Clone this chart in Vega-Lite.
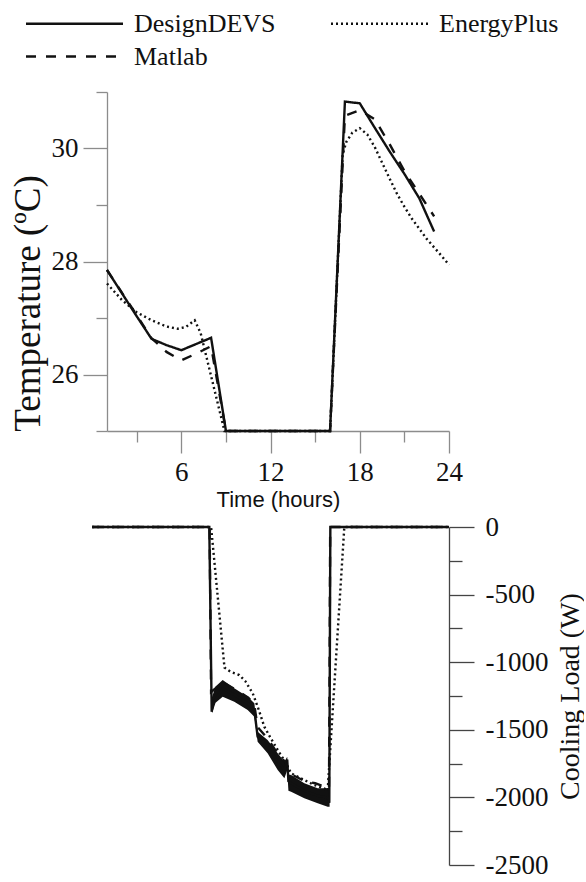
{
  "$schema": "https://vega.github.io/schema/vega-lite/v6.json",
  "padding": {"left": 9, "top": 10, "right": 0, "bottom": 0},
  "background": "white",
  "bounds": "flush",
  "spacing": 96,
  "config": {
    "view": {"stroke": null},
    "font": "Liberation Serif",
    "axis": {
      "grid": false,
      "labelFont": "Liberation Serif",
      "titleFont": "Liberation Serif",
      "titleFontWeight": "normal",
      "labelFontSize": 27,
      "labelColor": "#111",
      "titleColor": "#111",
      "domainWidth": 1.3,
      "tickWidth": 1.3,
      "labelFlush": false,
      "labelOverlap": false
    }
  },
  "datasets": {
    "temp": [
      {"series": "DesignDEVS", "h": 1, "v": 27.85},
      {"series": "DesignDEVS", "h": 2, "v": 27.44},
      {"series": "DesignDEVS", "h": 3, "v": 27.03},
      {"series": "DesignDEVS", "h": 4, "v": 26.63},
      {"series": "DesignDEVS", "h": 5, "v": 26.52},
      {"series": "DesignDEVS", "h": 6, "v": 26.43},
      {"series": "DesignDEVS", "h": 7, "v": 26.54},
      {"series": "DesignDEVS", "h": 8, "v": 26.65},
      {"series": "DesignDEVS", "h": 9, "v": 25.0},
      {"series": "DesignDEVS", "h": 10, "v": 25.0},
      {"series": "DesignDEVS", "h": 11, "v": 25.0},
      {"series": "DesignDEVS", "h": 12, "v": 25.0},
      {"series": "DesignDEVS", "h": 13, "v": 25.0},
      {"series": "DesignDEVS", "h": 14, "v": 25.0},
      {"series": "DesignDEVS", "h": 15, "v": 25.0},
      {"series": "DesignDEVS", "h": 16, "v": 25.0},
      {"series": "DesignDEVS", "h": 17, "v": 30.83},
      {"series": "DesignDEVS", "h": 18, "v": 30.8},
      {"series": "DesignDEVS", "h": 19, "v": 30.37},
      {"series": "DesignDEVS", "h": 20, "v": 29.95},
      {"series": "DesignDEVS", "h": 21, "v": 29.55},
      {"series": "DesignDEVS", "h": 22, "v": 29.12},
      {"series": "DesignDEVS", "h": 23, "v": 28.53},
      {"series": "EnergyPlus", "h": 1, "v": 27.61},
      {"series": "EnergyPlus", "h": 2, "v": 27.32},
      {"series": "EnergyPlus", "h": 3, "v": 27.1},
      {"series": "EnergyPlus", "h": 4, "v": 26.96},
      {"series": "EnergyPlus", "h": 5, "v": 26.85},
      {"series": "EnergyPlus", "h": 5.75, "v": 26.81},
      {"series": "EnergyPlus", "h": 6.3, "v": 26.84},
      {"series": "EnergyPlus", "h": 6.9, "v": 26.96},
      {"series": "EnergyPlus", "h": 7.3, "v": 26.73},
      {"series": "EnergyPlus", "h": 8.9, "v": 25.0},
      {"series": "EnergyPlus", "h": 10, "v": 25.0},
      {"series": "EnergyPlus", "h": 12, "v": 25.0},
      {"series": "EnergyPlus", "h": 14, "v": 25.0},
      {"series": "EnergyPlus", "h": 16, "v": 25.0},
      {"series": "EnergyPlus", "h": 16.85, "v": 29.9},
      {"series": "EnergyPlus", "h": 17.1, "v": 30.12},
      {"series": "EnergyPlus", "h": 17.5, "v": 30.28},
      {"series": "EnergyPlus", "h": 18, "v": 30.36},
      {"series": "EnergyPlus", "h": 18.5, "v": 30.25},
      {"series": "EnergyPlus", "h": 19, "v": 30.03},
      {"series": "EnergyPlus", "h": 19.5, "v": 29.75},
      {"series": "EnergyPlus", "h": 20, "v": 29.47},
      {"series": "EnergyPlus", "h": 20.5, "v": 29.2},
      {"series": "EnergyPlus", "h": 21, "v": 28.97},
      {"series": "EnergyPlus", "h": 21.5, "v": 28.76},
      {"series": "EnergyPlus", "h": 22, "v": 28.58},
      {"series": "EnergyPlus", "h": 22.5, "v": 28.4},
      {"series": "EnergyPlus", "h": 23, "v": 28.25},
      {"series": "EnergyPlus", "h": 23.5, "v": 28.1},
      {"series": "EnergyPlus", "h": 24, "v": 27.94},
      {"series": "Matlab", "h": 1, "v": 27.85},
      {"series": "Matlab", "h": 2, "v": 27.45},
      {"series": "Matlab", "h": 3, "v": 27.05},
      {"series": "Matlab", "h": 4, "v": 26.64},
      {"series": "Matlab", "h": 5, "v": 26.4},
      {"series": "Matlab", "h": 6, "v": 26.25},
      {"series": "Matlab", "h": 7, "v": 26.37},
      {"series": "Matlab", "h": 8, "v": 26.5},
      {"series": "Matlab", "h": 9, "v": 25.0},
      {"series": "Matlab", "h": 12, "v": 25.0},
      {"series": "Matlab", "h": 16, "v": 25.0},
      {"series": "Matlab", "h": 17, "v": 30.58},
      {"series": "Matlab", "h": 18, "v": 30.68},
      {"series": "Matlab", "h": 19, "v": 30.52},
      {"series": "Matlab", "h": 20, "v": 30.08},
      {"series": "Matlab", "h": 21, "v": 29.6},
      {"series": "Matlab", "h": 22, "v": 29.2},
      {"series": "Matlab", "h": 23, "v": 28.8}
    ],
    "load": [
      {"series": "DesignDEVS", "h": 0, "v": 0},
      {"series": "DesignDEVS", "h": 7.88, "v": 0},
      {"series": "DesignDEVS", "h": 8.04, "v": -1366},
      {"series": "DesignDEVS", "h": 8.15, "v": -1300},
      {"series": "DesignDEVS", "h": 8.78, "v": -1195},
      {"series": "DesignDEVS", "h": 9.56, "v": -1242},
      {"series": "DesignDEVS", "h": 10.46, "v": -1304},
      {"series": "DesignDEVS", "h": 10.91, "v": -1354},
      {"series": "DesignDEVS", "h": 11.13, "v": -1551},
      {"series": "DesignDEVS", "h": 11.8, "v": -1625},
      {"series": "DesignDEVS", "h": 12.48, "v": -1735},
      {"series": "DesignDEVS", "h": 12.93, "v": -1797},
      {"series": "DesignDEVS", "h": 13.12, "v": -1720},
      {"series": "DesignDEVS", "h": 13.2, "v": -1880},
      {"series": "DesignDEVS", "h": 13.38, "v": -1896},
      {"series": "DesignDEVS", "h": 14.27, "v": -1951},
      {"series": "DesignDEVS", "h": 15.17, "v": -1988},
      {"series": "DesignDEVS", "h": 15.84, "v": -2001},
      {"series": "DesignDEVS", "h": 15.95, "v": -2040},
      {"series": "DesignDEVS", "h": 16.02, "v": 0},
      {"series": "DesignDEVS", "h": 24, "v": 0},
      {"series": "EnergyPlus", "h": 0, "v": 0},
      {"series": "EnergyPlus", "h": 8.0, "v": 0},
      {"series": "EnergyPlus", "h": 8.9, "v": -1040},
      {"series": "EnergyPlus", "h": 9.3, "v": -1070},
      {"series": "EnergyPlus", "h": 9.9, "v": -1095},
      {"series": "EnergyPlus", "h": 10.3, "v": -1140},
      {"series": "EnergyPlus", "h": 10.8, "v": -1230},
      {"series": "EnergyPlus", "h": 11.2, "v": -1350},
      {"series": "EnergyPlus", "h": 11.58, "v": -1477},
      {"series": "EnergyPlus", "h": 12.0, "v": -1560},
      {"series": "EnergyPlus", "h": 12.48, "v": -1649},
      {"series": "EnergyPlus", "h": 13.0, "v": -1740},
      {"series": "EnergyPlus", "h": 13.38, "v": -1822},
      {"series": "EnergyPlus", "h": 14.05, "v": -1859},
      {"series": "EnergyPlus", "h": 14.94, "v": -1908},
      {"series": "EnergyPlus", "h": 15.6, "v": -1933},
      {"series": "EnergyPlus", "h": 15.84, "v": -1950},
      {"series": "EnergyPlus", "h": 16.96, "v": 0},
      {"series": "EnergyPlus", "h": 24, "v": 0},
      {"series": "Matlab", "h": 0, "v": 0},
      {"series": "Matlab", "h": 7.9, "v": 0},
      {"series": "Matlab", "h": 8.0, "v": -1220},
      {"series": "Matlab", "h": 8.8, "v": -1150},
      {"series": "Matlab", "h": 9.6, "v": -1200},
      {"series": "Matlab", "h": 10.5, "v": -1262},
      {"series": "Matlab", "h": 10.9, "v": -1310},
      {"series": "Matlab", "h": 11.13, "v": -1480},
      {"series": "Matlab", "h": 11.8, "v": -1565},
      {"series": "Matlab", "h": 12.5, "v": -1680},
      {"series": "Matlab", "h": 13.0, "v": -1740},
      {"series": "Matlab", "h": 13.4, "v": -1830},
      {"series": "Matlab", "h": 14.3, "v": -1880},
      {"series": "Matlab", "h": 15.0, "v": -1895},
      {"series": "Matlab", "h": 15.5, "v": -1915},
      {"series": "Matlab", "h": 15.93, "v": -1935},
      {"series": "Matlab", "h": 16.01, "v": 0},
      {"series": "Matlab", "h": 24, "v": 0}
    ],
    "band": [
      {"h": 8.06, "lo": -1380, "hi": -1260},
      {"h": 8.3, "lo": -1300, "hi": -1180},
      {"h": 8.78, "lo": -1255, "hi": -1132},
      {"h": 9.56, "lo": -1292, "hi": -1193},
      {"h": 10.46, "lo": -1353, "hi": -1255},
      {"h": 10.91, "lo": -1403, "hi": -1304},
      {"h": 11.13, "lo": -1588, "hi": -1514},
      {"h": 11.8, "lo": -1674, "hi": -1575},
      {"h": 12.48, "lo": -1797, "hi": -1674},
      {"h": 12.93, "lo": -1859, "hi": -1736},
      {"h": 13.12, "lo": -1800, "hi": -1700},
      {"h": 13.2, "lo": -1950, "hi": -1830},
      {"h": 13.38, "lo": -1958, "hi": -1834},
      {"h": 14.27, "lo": -2007, "hi": -1896},
      {"h": 15.17, "lo": -2044, "hi": -1933},
      {"h": 15.84, "lo": -2069, "hi": -1933},
      {"h": 15.97, "lo": -2069, "hi": -1940}
    ]
  },
  "vconcat": [
    {
      "width": 342,
      "height": 339,
      "layer": [
        {
          "data": {"name": "temp"},
          "mark": {"type": "line", "color": "#111", "strokeWidth": 2.4},
          "encoding": {
            "x": {"field": "h", "type": "quantitative", "scale": {"domain": [1, 24], "nice": false, "zero": false},
              "axis": {"orient": "bottom", "values": [6, 12, 18, 24], "tickSize": 22, "labelPadding": 6, "domainColor": "#8c8c8c", "tickColor": "#8c8c8c", "title": "Time (hours)", "titleFont": "Liberation Sans", "titleFontSize": 22, "titlePadding": 4}},
            "y": {"field": "v", "type": "quantitative", "scale": {"domain": [25, 31], "nice": false, "zero": false},
              "axis": {"orient": "left", "values": [26, 28, 30], "tickSize": 24, "labelPadding": 5, "domainColor": "#8c8c8c", "tickColor": "#8c8c8c", "title": "Temperature (ºC)", "titleFontSize": 37, "titleAngle": 270, "titleBaseline": "alphabetic", "titleAlign": "center", "titleX": -68, "titleY": 211}},
            "strokeDash": {"field": "series", "type": "nominal",
              "scale": {"domain": ["DesignDEVS", "EnergyPlus", "Matlab"], "range": [[1, 0], [2, 3], [10, 10]]},
              "legend": {"orient": "none", "legendX": -46, "legendY": -82, "columns": 2, "direction": "horizontal", "title": null, "symbolType": "M-4,0H4", "symbolSize": 588, "symbolStrokeWidth": 2.5, "symbolStrokeColor": "#111", "symbolFillColor": "transparent", "labelFont": "Liberation Serif", "labelFontSize": 26, "labelColor": "#111", "labelOffset": 46, "columnPadding": 50, "rowPadding": 6, "padding": 0, "labelLimit": 400}}
          }
        },
        {
          "data": {"name": "temp"},
          "mark": {"type": "point", "opacity": 0},
          "encoding": {
            "x": {"field": "h", "type": "quantitative", "scale": {"domain": [1, 24], "nice": false, "zero": false},
              "axis": {"orient": "bottom", "values": [3, 9, 15, 21], "tickSize": 11, "labels": false, "domain": false, "title": null, "tickColor": "#8c8c8c"}},
            "y": {"field": "v", "type": "quantitative", "scale": {"domain": [25, 31], "nice": false, "zero": false},
              "axis": {"orient": "left", "values": [25, 27, 29, 31], "tickSize": 11, "labels": false, "domain": false, "title": null, "tickColor": "#8c8c8c"}}
          }
        }
      ],
      "resolve": {"axis": {"x": "independent", "y": "independent"}}
    },
    {
      "width": 342,
      "height": 338,
      "layer": [
        {
          "data": {"name": "band"},
          "mark": {"type": "area", "color": "#111", "opacity": 1},
          "encoding": {
            "x": {"field": "h", "type": "quantitative", "scale": {"domain": [1, 24], "nice": false, "zero": false}, "axis": null},
            "y": {"field": "lo", "type": "quantitative", "scale": {"domain": [-2500, 0], "nice": false, "zero": false},
              "axis": {"orient": "right", "values": [0, -500, -1000, -1500, -2000, -2500], "labelExpr": "'' + datum.value", "tickSize": 25, "labelPadding": 11, "domainColor": "#444", "tickColor": "#444", "title": "Cooling Load (W)", "titleFontSize": 28, "titleAngle": 270, "titleBaseline": "alphabetic", "titleAlign": "center", "titleX": 129, "titleY": 169}},
            "y2": {"field": "hi"}
          }
        },
        {
          "data": {"name": "load"},
          "mark": {"type": "line", "color": "#111", "strokeWidth": 2.4},
          "encoding": {
            "x": {"field": "h", "type": "quantitative", "scale": {"domain": [1, 24], "nice": false, "zero": false}, "axis": null},
            "y": {"field": "v", "type": "quantitative", "axis": null},
            "strokeDash": {"field": "series", "type": "nominal",
              "scale": {"domain": ["DesignDEVS", "EnergyPlus", "Matlab"], "range": [[1, 0], [2, 3], [10, 10]]},
              "legend": {"orient": "none", "legendX": -46, "legendY": -82, "columns": 2, "direction": "horizontal", "title": null, "symbolType": "M-4,0H4", "symbolSize": 588, "symbolStrokeWidth": 2.5, "symbolStrokeColor": "#111", "symbolFillColor": "transparent", "labelFont": "Liberation Serif", "labelFontSize": 26, "labelColor": "#111", "labelOffset": 46, "columnPadding": 50, "rowPadding": 6, "padding": 0, "labelLimit": 400}}
          }
        },
        {
          "data": {"name": "load"},
          "mark": {"type": "point", "opacity": 0},
          "encoding": {
            "x": {"field": "h", "type": "quantitative", "scale": {"domain": [1, 24], "nice": false, "zero": false}, "axis": null},
            "y": {"field": "v", "type": "quantitative",
              "axis": {"orient": "right", "values": [-250, -750, -1250, -1750, -2250], "tickSize": 13, "labels": false, "domain": false, "title": null, "tickColor": "#444"}}
          }
        }
      ],
      "resolve": {"axis": {"y": "independent"}}
    }
  ]
}
